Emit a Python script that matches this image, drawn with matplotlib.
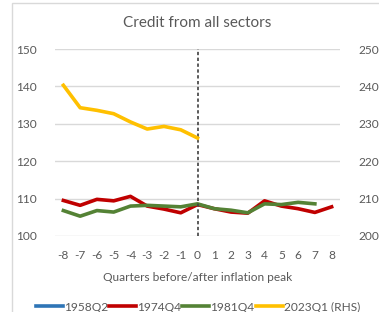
import numpy as np
import matplotlib.pyplot as plt
from matplotlib.lines import Line2D
from matplotlib.patches import Rectangle

plt.rcParams['font.family'] = ['Lato', 'DejaVu Sans']
plt.rcParams['axes.unicode_minus'] = False

quarters = list(range(-8, 9))
s1958 = [np.nan] * 17
s1974 = [109.5, 108.2, 109.8, 109.4, 110.6, 108.0, 107.2, 106.2, 108.4,
         107.3, 106.4, 106.1, 109.4, 108.0, 107.3, 106.3, 107.8]
s1981 = [106.8, 105.3, 106.8, 106.4, 108.0, 108.2, 108.0, 107.8, 108.6,
         107.3, 106.9, 106.2, 108.6, 108.4, 109.0, 108.6, np.nan]
s2023 = [240.3, 234.3, 233.6, 232.7, 230.5, 228.6, 229.3, 228.4, 226.2,
         np.nan, np.nan, np.nan, np.nan, np.nan, np.nan, np.nan, np.nan]

grey = '#595959'
c_blue, c_red, c_green, c_yellow = '#2E75B6', '#C00000', '#548235', '#FFC000'

fig = plt.figure(figsize=(3.79, 3.12), dpi=100)
ax = fig.add_axes([55/379, 1 - 236/312, 285/379, 187/312])
ax2 = ax.twinx()

# chart area frame
fig.patches.append(Rectangle((12/379, -0.1), 1.2, 1 - 3/312 + 0.1,
                             transform=fig.transFigure, fill=False,
                             edgecolor='#D9D9D9', linewidth=1))

lw = 2.6
ax.plot(quarters, s1958, color=c_blue, lw=lw)
ax.plot(quarters, s1974, color=c_red, lw=lw)
ax.plot(quarters, s1981, color=c_green, lw=lw)
ax2.plot(quarters, s2023, color=c_yellow, lw=lw)

ax.axvline(0, color='#404040', lw=1.2, linestyle=(0, (2, 1.5)), zorder=5)

ax.set_xlim(-8.5, 8.5)
ax.set_ylim(100, 150)
ax2.set_ylim(200, 250)
ax.set_yticks(range(100, 151, 10))
ax2.set_yticks(range(200, 251, 10))
ax.set_xticks(quarters)
ax.grid(axis='y', color='#D9D9D9', lw=1)
ax.set_axisbelow(True)

fs = 8.6
for a in (ax, ax2):
    for s in a.spines.values():
        s.set_visible(False)
    a.tick_params(length=0, labelsize=fs, colors=grey)
ax.tick_params(axis='y', pad=13)
ax2.tick_params(axis='y', pad=13)
ax.tick_params(axis='x', pad=10)

ax.set_xlabel('Quarters before/after inflation peak', color=grey, fontsize=fs, labelpad=8)
fig.text(197/379, 1 - 23/312, 'Credit from all sectors', ha='center', va='center',
         color=grey, fontsize=11)

labels = ['1958Q2', '1974Q4', '1981Q4', '2023Q1 (RHS)']
handles = [Line2D([], [], color=c, lw=lw) for c in (c_blue, c_red, c_green, c_yellow)]
fig.legend(handles, labels, loc='center', bbox_to_anchor=(198/379, 1 - 307/312),
           ncol=4, frameon=False, handlelength=2.25, handletextpad=0.1,
           columnspacing=0.1, fontsize=fs, labelcolor=grey, borderpad=0)

fig.savefig('out.png', dpi=100)
